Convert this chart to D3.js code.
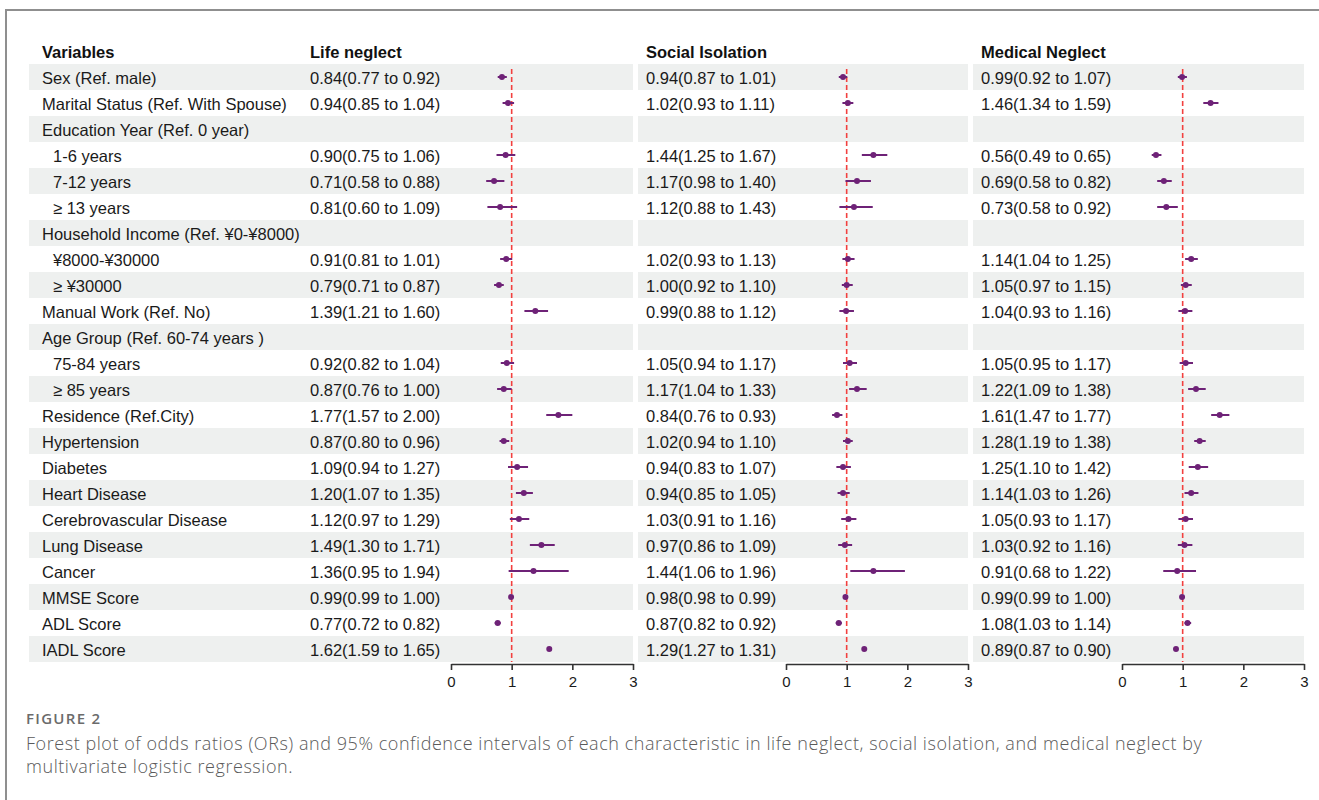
<!DOCTYPE html>
<html>
<head>
<meta charset="utf-8">
<script src="https://cdn.jsdelivr.net/npm/d3@7"></script>
<style>
  html, body { margin: 0; padding: 0; background: #fff; }
  svg { display: block; }
</style>
</head>
<body>
<svg id="chart" width="1319" height="800"></svg>
<script>
// ---------- data ----------
const variables = [
  "Sex (Ref. male)",
  "Marital Status (Ref. With Spouse)",
  "Education Year (Ref. 0 year)",
  "1-6 years",
  "7-12 years",
  "\u2265 13 years",
  "Household Income (Ref. \u00A50-\u00A58000)",
  "\u00A58000-\u00A530000",
  "\u2265 \u00A530000",
  "Manual Work (Ref. No)",
  "Age Group (Ref. 60-74 years )",
  "75-84 years",
  "\u2265 85 years",
  "Residence (Ref.City)",
  "Hypertension",
  "Diabetes",
  "Heart Disease",
  "Cerebrovascular Disease",
  "Lung Disease",
  "Cancer",
  "MMSE Score",
  "ADL Score",
  "IADL Score"
];
const subItem = [false,false,false,true,true,true,false,true,true,false,false,true,true,false,false,false,false,false,false,false,false,false,false];

const outcomes = ["Life neglect", "Social Isolation", "Medical Neglect"];

// [OR, lower, upper]; null for group header rows
const lifeNeglect = [
  [0.84,0.77,0.92],[0.94,0.85,1.04],null,[0.90,0.75,1.06],[0.71,0.58,0.88],[0.81,0.60,1.09],
  null,[0.91,0.81,1.01],[0.79,0.71,0.87],[1.39,1.21,1.60],null,[0.92,0.82,1.04],[0.87,0.76,1.00],
  [1.77,1.57,2.00],[0.87,0.80,0.96],[1.09,0.94,1.27],[1.20,1.07,1.35],[1.12,0.97,1.29],
  [1.49,1.30,1.71],[1.36,0.95,1.94],[0.99,0.99,1.00],[0.77,0.72,0.82],[1.62,1.59,1.65]
];
const socialIsolation = [
  [0.94,0.87,1.01],[1.02,0.93,1.11],null,[1.44,1.25,1.67],[1.17,0.98,1.40],[1.12,0.88,1.43],
  null,[1.02,0.93,1.13],[1.00,0.92,1.10],[0.99,0.88,1.12],null,[1.05,0.94,1.17],[1.17,1.04,1.33],
  [0.84,0.76,0.93],[1.02,0.94,1.10],[0.94,0.83,1.07],[0.94,0.85,1.05],[1.03,0.91,1.16],
  [0.97,0.86,1.09],[1.44,1.06,1.96],[0.98,0.98,0.99],[0.87,0.82,0.92],[1.29,1.27,1.31]
];
const medicalNeglect = [
  [0.99,0.92,1.07],[1.46,1.34,1.59],null,[0.56,0.49,0.65],[0.69,0.58,0.82],[0.73,0.58,0.92],
  null,[1.14,1.04,1.25],[1.05,0.97,1.15],[1.04,0.93,1.16],null,[1.05,0.95,1.17],[1.22,1.09,1.38],
  [1.61,1.47,1.77],[1.28,1.19,1.38],[1.25,1.10,1.42],[1.14,1.03,1.26],[1.05,0.93,1.17],
  [1.03,0.92,1.16],[0.91,0.68,1.22],[0.99,0.99,1.00],[1.08,1.03,1.14],[0.89,0.87,0.90]
];
const axisTicks = [0, 1, 2, 3];
const refLine = 1;

const captionLabel = "FIGURE 2";
const captionLines = [
  "Forest plot of odds ratios (ORs) and 95% confidence intervals of each characteristic in life neglect, social isolation, and medical neglect by",
  "multivariate logistic regression."
];

// ---------- layout ----------
const svg = d3.select("#chart");
const FONT = "'Liberation Sans', Arial, sans-serif";
const rowTop = 64, rowH = 26;
const y = d3.scaleBand().domain(d3.range(variables.length))
  .range([rowTop, rowTop + rowH * variables.length]).paddingInner(0);
const yMid = i => y(i) + y.bandwidth() / 2;
const axisY = rowTop + rowH * variables.length + 2;

// frame
svg.append("path")
  .attr("d", "M6,800 L6,10 L1319,10")
  .attr("fill", "none").attr("stroke", "#8f8f8f").attr("stroke-width", 2);

const panels = [
  { data: lifeNeglect,     textX: 310, stripe: [29, 633],  range: [451, 633] },
  { data: socialIsolation, textX: 646, stripe: [638, 968], range: [786, 968] },
  { data: medicalNeglect,  textX: 981, stripe: [973, 1304], range: [1122, 1304] }
];

// stripes
const stripeRows = d3.range(variables.length).filter(i => i % 2 === 0);
panels.forEach(p => {
  svg.append("g").selectAll("rect").data(stripeRows).join("rect")
    .attr("x", p.stripe[0]).attr("width", p.stripe[1] - p.stripe[0])
    .attr("y", i => y(i)).attr("height", y.bandwidth())
    .attr("fill", "#eef0ef");
});

// headers
svg.append("text").attr("x", 42).attr("y", 52).attr("dy", "0.36em")
  .attr("font-family", FONT).attr("font-weight", "bold").attr("font-size", 16.5)
  .attr("fill", "#111").text("Variables");
panels.forEach((p, k) => {
  svg.append("text").attr("x", p.textX).attr("y", 52).attr("dy", "0.36em")
    .attr("font-family", FONT).attr("font-weight", "bold").attr("font-size", 16.5)
    .attr("fill", "#111").text(outcomes[k]);
});

// variable labels
svg.append("g").selectAll("text").data(variables).join("text")
  .attr("x", (d, i) => subItem[i] ? 53 : 42)
  .attr("y", (d, i) => yMid(i) + 1).attr("dy", "0.36em")
  .attr("font-family", FONT).attr("font-size", 16.5).attr("fill", "#1a1a1a")
  .text(d => d);

const f = d3.format(".2f");
const purple = "#6e2277";

panels.forEach(p => {
  const x = d3.scaleLinear().domain([0, 3]).range(p.range);
  const rows = p.data.map((d, i) => ({ d, i })).filter(r => r.d);

  // value text
  svg.append("g").selectAll("text").data(rows).join("text")
    .attr("x", p.textX).attr("y", r => yMid(r.i) + 1).attr("dy", "0.36em")
    .attr("font-family", FONT).attr("font-size", 16.5).attr("fill", "#1a1a1a")
    .text(r => `${f(r.d[0])}(${f(r.d[1])} to ${f(r.d[2])})`);

  // reference line
  svg.append("line")
    .attr("x1", x(refLine)).attr("x2", x(refLine))
    .attr("y1", rowTop + 5).attr("y2", axisY - 2)
    .attr("stroke", "#f2403f").attr("stroke-width", 1.6)
    .attr("stroke-dasharray", "5,3");

  // CI lines
  svg.append("g").selectAll("line").data(rows).join("line")
    .attr("x1", r => x(r.d[1])).attr("x2", r => x(r.d[2]))
    .attr("y1", r => yMid(r.i)).attr("y2", r => yMid(r.i))
    .attr("stroke", purple).attr("stroke-width", 2);

  // points
  svg.append("g").selectAll("circle").data(rows).join("circle")
    .attr("cx", r => x(r.d[0])).attr("cy", r => yMid(r.i)).attr("r", 3)
    .attr("fill", purple);

  // axis
  const ax = svg.append("g").attr("transform", `translate(0,${axisY})`)
    .call(d3.axisBottom(x).tickValues(axisTicks).tickFormat(d3.format("d"))
      .tickSize(6).tickSizeOuter(0).tickPadding(6));
  ax.select(".domain").attr("stroke", "#333").attr("stroke-width", 1.6);
  ax.selectAll(".tick line").attr("stroke", "#333").attr("stroke-width", 1.6);
  ax.selectAll(".tick text").attr("font-family", FONT).attr("font-size", 15).attr("fill", "#1a1a1a");
});

// caption
svg.append("text").attr("x", 26).attr("y", 719).attr("dy", "0.36em")
  .attr("font-family", "'Open Sans', 'Noto Sans', sans-serif").attr("font-size", 15)
  .attr("font-weight", 600).attr("letter-spacing", 1.3)
  .attr("fill", "#6b6b6b").text(captionLabel);
svg.append("g").selectAll("text").data(captionLines).join("text")
  .attr("x", 26).attr("y", (d, i) => 744 + i * 23).attr("dy", "0.36em")
  .attr("font-family", "'Open Sans', 'Noto Sans', sans-serif").attr("font-size", 18)
  .attr("font-weight", 300).attr("letter-spacing", 0.55)
  .attr("fill", "#5a5a5a").text(d => d);
</script>
</body>
</html>
